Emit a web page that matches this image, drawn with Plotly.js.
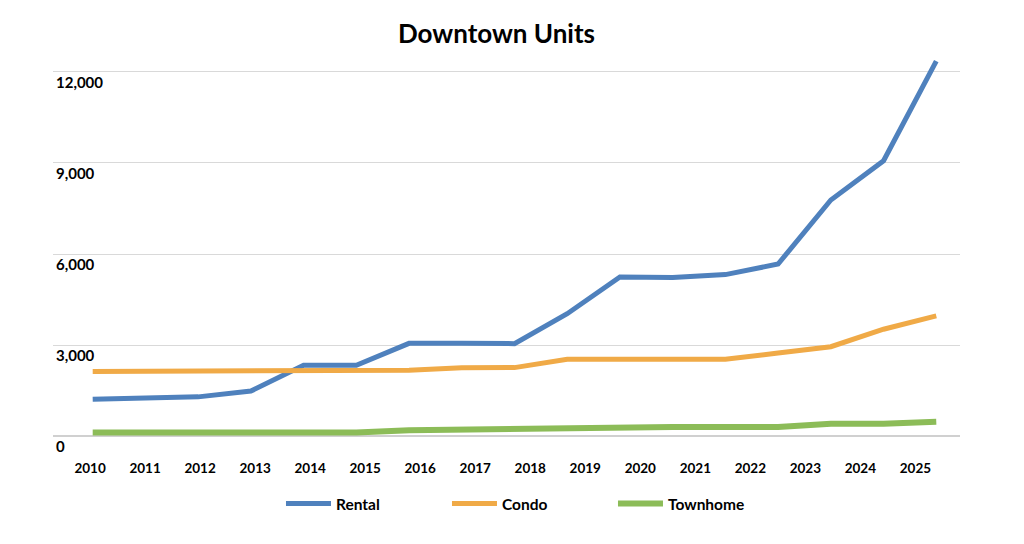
<!DOCTYPE html>
<html>
<head>
<meta charset="utf-8">
<script src="https://cdn.plot.ly/plotly-3.0.1.min.js"></script>
<style>html,body{margin:0;padding:0;background:#fff;}#chart{width:1024px;height:544px;}</style>
</head>
<body>
<div id="chart"></div>
<script>
// Data (17 plotted points, 16 year labels)
var yearLabels = ["2010","2011","2012","2013","2014","2015","2016","2017","2018","2019","2020","2021","2022","2023","2024","2025"];
var rental   = [1210, 1250, 1290, 1480, 2330, 2330, 3055, 3055, 3045, 4030, 5240, 5225, 5320, 5670, 7780, 9075, 12360];
var condo    = [2130, 2130, 2135, 2140, 2150, 2155, 2165, 2250, 2255, 2528, 2530, 2530, 2530, 2736, 2944, 3520, 3960];
var townhome = [115, 115, 115, 115, 115, 115, 190, 220, 250, 270, 295, 295, 295, 295, 400, 400, 470];

var seriesNames = ["Rental", "Condo", "Townhome"];
var colors = ["#4f81bd", "#f0aa47", "#8cbc58"];

var idx = rental.map(function(_, i){ return i; });
var tickPos = yearLabels.map(function(_, i){ return i * 1.0436 - 0.05; });

var fontFam = "Lato, 'Open Sans', sans-serif";

var traces = [rental, condo, townhome].map(function(vals, k){
  return {
    x: idx, y: vals, type: "scatter", mode: "lines", name: seriesNames[k],
    line: {color: colors[k], width: k === 2 ? 6 : 5, shape: "linear"},
    hoverinfo: "skip"
  };
});

var layout = {
  width: 1024, height: 544,
  paper_bgcolor: "#ffffff", plot_bgcolor: "#ffffff",
  margin: {l: 53, r: 64, t: 50, b: 108},
  font: {family: fontFam, color: "#000000", weight: "bold"},
  title: {text: "Downtown Units", x: 0.4849, xref: "container", xanchor: "center",
          y: 0.9375, yref: "container", yanchor: "middle",
          font: {family: fontFam, size: 26, color: "#000", weight: "bold"}},
  xaxis: {
    range: [-0.753, 16.45], tickmode: "array", tickvals: tickPos, ticktext: yearLabels,
    showgrid: false, zeroline: false, showline: false,
    ticks: "outside", ticklen: 20, tickcolor: "rgba(0,0,0,0)",
    ticklabeloverflow: "allow",
    tickfont: {family: fontFam, size: 13.5, color: "#000", weight: "bold"},
    fixedrange: true
  },
  yaxis: {
    range: [0, 12725], tickmode: "array", tickvals: [0, 3000, 6000, 9000, 12000],
    ticktext: ["0", "3,000", "6,000", "9,000", "12,000"],
    ticklabelposition: "inside bottom", ticklabeloverflow: "allow",
    showgrid: true, gridcolor: "#d9d9d9", gridwidth: 1,
    zeroline: true, zerolinecolor: "#d0d0d0", zerolinewidth: 1.5,
    showline: false, ticks: "",
    tickfont: {family: fontFam, size: 15, color: "#000", weight: "bold"},
    fixedrange: true
  },
  showlegend: true,
  legend: {
    orientation: "h", xref: "container", yref: "container",
    x: 0.2744, xanchor: "left", y: 0.0735, yanchor: "middle",
    entrywidth: 106, entrywidthmode: "pixels", itemwidth: 45,
    font: {family: fontFam, size: 15.5, color: "#000", weight: "bold"},
    bgcolor: "rgba(0,0,0,0)"
  }
};

Plotly.newPlot("chart", traces, layout, {displayModeBar: false, staticPlot: true});
</script>
</body>
</html>
